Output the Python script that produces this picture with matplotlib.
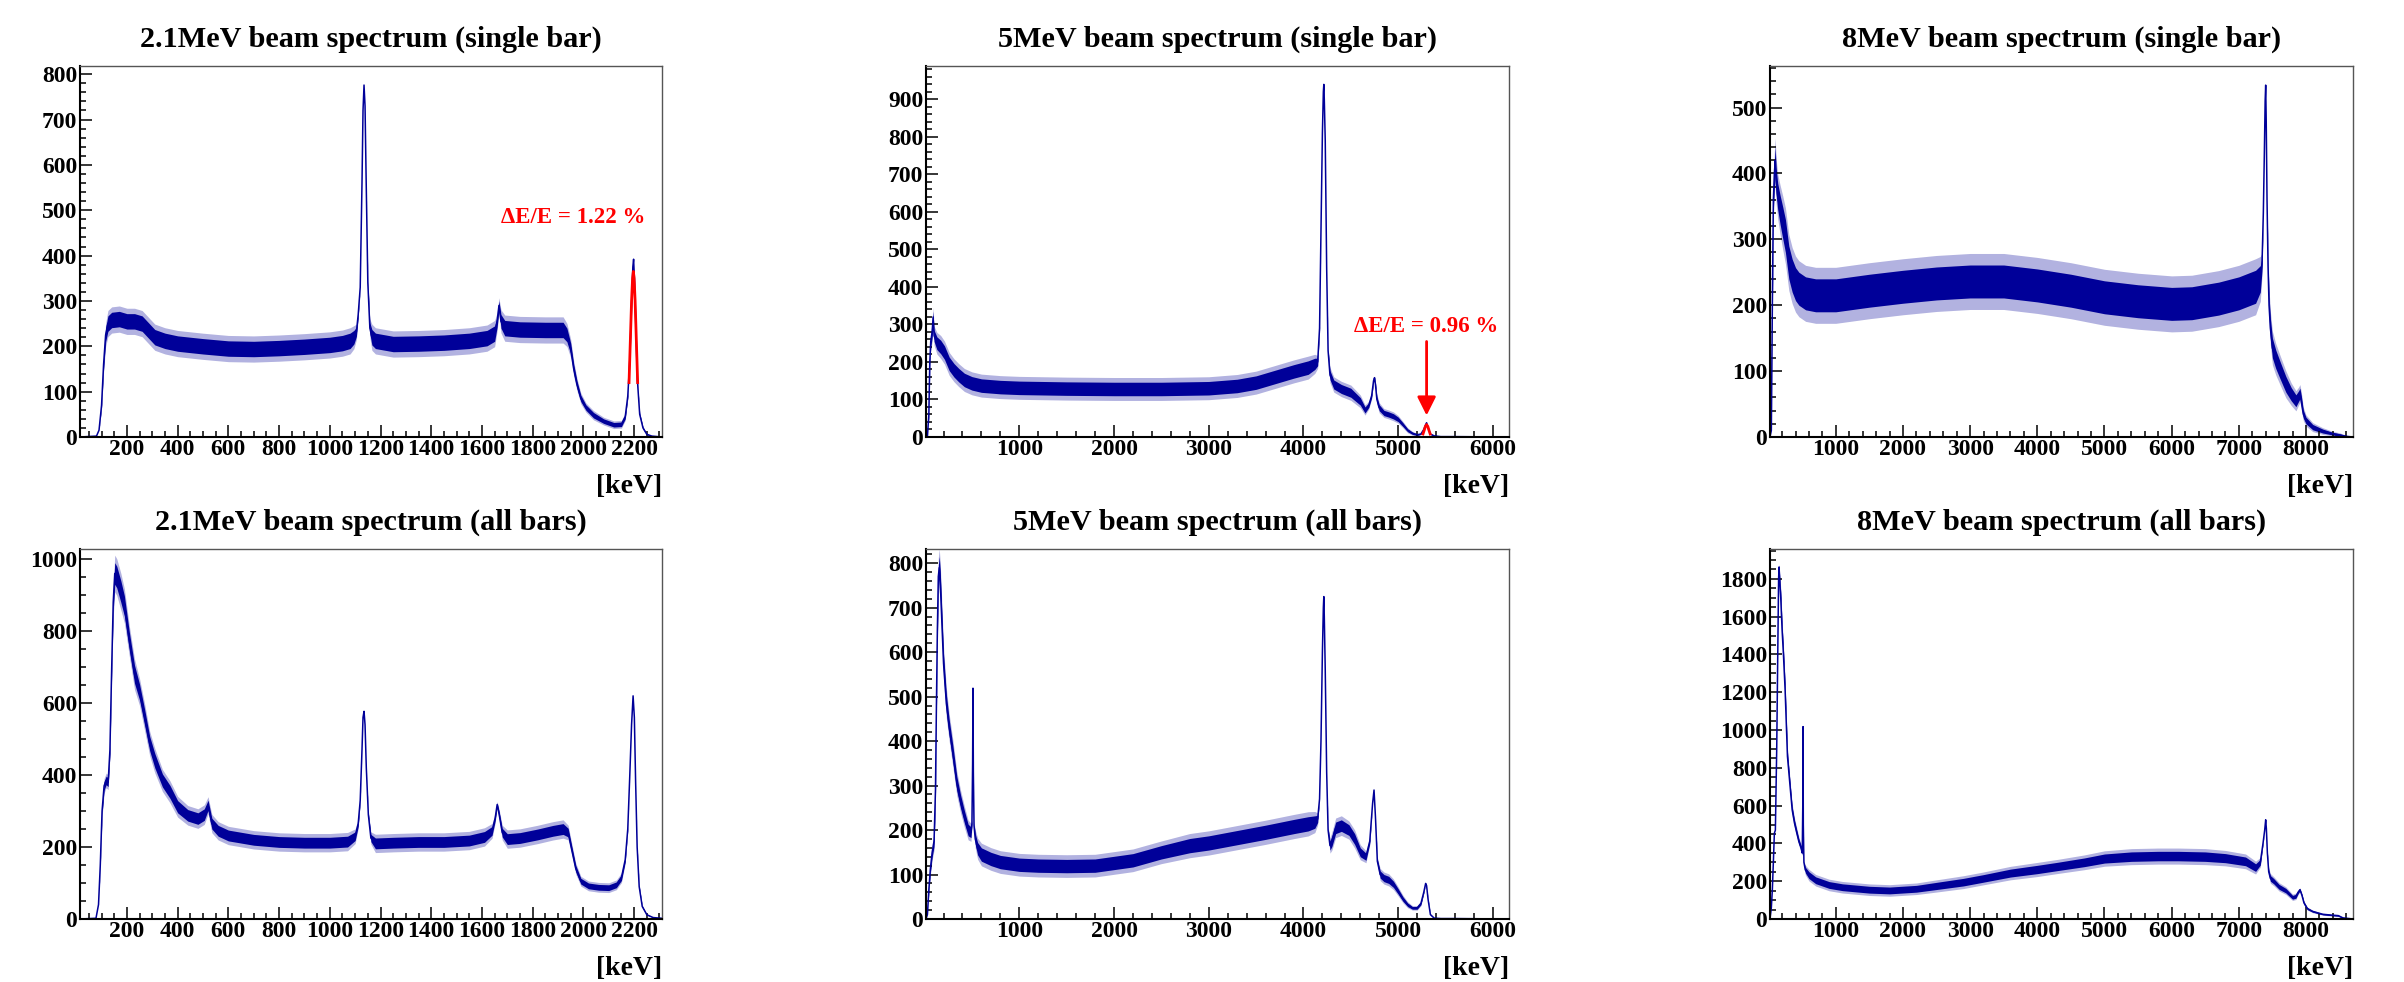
import numpy as np
import matplotlib.pyplot as plt
from matplotlib.ticker import MultipleLocator

plt.rcParams["font.family"] = ["Liberation Serif", "DejaVu Serif"]
plt.rcParams["font.weight"] = "bold"

BLUE = "#000099"
RED = "#ff0000"

# ---------------- 2.1 MeV beam, single bar ----------------
e21_single = [15, 80, 90, 100, 108, 116, 125, 140, 170, 200, 230, 260, 285, 310, 350, 400, 500, 600, 700, 800,
              900, 1000, 1050, 1080, 1095, 1105, 1112, 1120, 1127, 1131, 1135, 1139, 1143, 1150, 1158, 1166, 1180, 1250, 1350, 1450,
              1550, 1620, 1650, 1660, 1667, 1675, 1690, 1750, 1850, 1920, 1935, 1950, 1962, 1975, 1990, 2010, 2040, 2080, 2120, 2150,
              2165, 2175, 2183, 2190, 2195, 2198, 2202, 2207, 2213, 2222, 2235, 2250, 2270, 2310]
c21_single = [0, 2, 15, 70, 160, 225, 250, 258, 260, 255, 255, 250, 235, 220, 212, 206, 200, 195, 194, 196,
              199, 203, 207, 212, 220, 232, 270, 330, 560, 720, 776, 730, 580, 340, 240, 220, 212, 205, 206, 208,
              212, 218, 228, 255, 290, 255, 240, 237, 236, 236, 225, 195, 150, 115, 85, 65, 48, 35, 27, 28,
              45, 90, 170, 290, 375, 392, 340, 240, 125, 50, 20, 6, 2, 0]
w21_single = [0, 0, 0, 5, 10, 15, 17, 17, 17, 17, 17, 17, 17, 17, 17, 17, 17, 17, 17, 17,
              17, 17, 17, 17, 15, 10, 5, 0, 0, 0, 0, 0, 0, 5, 12, 17, 17, 17, 17, 17,
              17, 17, 17, 12, 10, 15, 17, 17, 17, 17, 15, 12, 10, 8, 7, 6, 6, 5, 5, 5,
              5, 4, 2, 0, 0, 0, 0, 0, 2, 3, 2, 1, 0, 0]
fit21_e = [2180, 2185, 2190, 2194, 2197, 2200, 2204, 2209, 2214]
fit21_c = [120, 210, 300, 350, 365, 350, 300, 210, 120]

# ---------------- 5 MeV beam, single bar ----------------
e5_single = [15, 30, 45, 55, 65, 80, 90, 100, 130, 170, 210, 260, 310, 360, 420, 500, 600, 800, 1000, 1500,
             2000, 2500, 3000, 3300, 3500, 3700, 3900, 4050, 4120, 4150, 4170, 4185, 4200, 4210, 4215, 4220, 4230, 4245, 4260, 4280,
             4320, 4400, 4500, 4600, 4650, 4690, 4720, 4740, 4750, 4760, 4775, 4800, 4850, 4900, 4950, 5000, 5050, 5100, 5150, 5200,
             5240, 5270, 5290, 5300, 5315, 5340, 5380, 5450, 5600, 6170]
c5_single = [0, 2, 60, 200, 255, 280, 320, 270, 250, 240, 225, 195, 178, 165, 152, 143, 137, 133, 131, 129,
             128, 128, 130, 136, 145, 160, 175, 185, 195, 200, 290, 550, 810, 920, 940, 900, 790, 450, 230, 165,
             140, 128, 118, 95, 72, 85, 110, 150, 158, 140, 100, 78, 64, 60, 55, 47, 33, 18, 10, 6,
             8, 20, 33, 38, 25, 8, 3, 1, 1, 0]
w5_single = [0, 0, 5, 10, 15, 15, 15, 15, 17, 18, 18, 18, 18, 18, 18, 18, 18, 18, 18, 18,
             18, 18, 18, 18, 18, 18, 18, 18, 15, 10, 5, 0, 0, 0, 0, 0, 0, 0, 5, 12,
             12, 12, 12, 10, 8, 6, 5, 3, 3, 5, 8, 8, 7, 7, 7, 6, 5, 4, 3, 2,
             1, 1, 0, 0, 0, 1, 1, 1, 0, 0]
fit5_e = [5262, 5275, 5287, 5300, 5313, 5325, 5338]
fit5_c = [8, 18, 28, 33, 28, 18, 8]

# ---------------- 8 MeV beam, single bar ----------------
e8_single = [20, 40, 55, 70, 85, 98, 110, 135, 170, 210, 250, 300, 350, 400, 450, 550, 700, 1000, 1500, 2000,
             2500, 3000, 3500, 4000, 4500, 5000, 5500, 6000, 6300, 6700, 7000, 7250, 7320, 7345, 7365, 7380, 7392, 7400, 7408, 7420,
             7435, 7450, 7470, 7500, 7550, 7620, 7700, 7780, 7850, 7890, 7910, 7930, 7960, 8000, 8100, 8250, 8400, 8500, 8600, 8700]
c8_single = [0, 10, 200, 360, 400, 420, 390, 365, 345, 325, 305, 265, 245, 232, 225, 218, 215, 215, 222, 228,
             233, 236, 236, 230, 222, 212, 206, 202, 203, 210, 218, 228, 240, 262, 340, 430, 510, 534, 480, 360,
             260, 200, 165, 135, 118, 100, 80, 65, 55, 62, 66, 55, 35, 25, 15, 9, 5, 3, 1, 0]
w8_single = [0, 0, 10, 15, 20, 20, 20, 20, 22, 24, 25, 25, 25, 25, 25, 25, 25, 25, 25, 25,
             25, 25, 25, 25, 25, 25, 25, 25, 25, 25, 25, 25, 20, 10, 0, 0, 0, 0, 0, 0,
             10, 15, 15, 15, 14, 13, 12, 10, 9, 8, 8, 8, 6, 5, 4, 3, 2, 2, 1, 0]

# ---------------- 2.1 MeV beam, all bars ----------------
e21_all = [15, 78, 88, 95, 102, 110, 118, 126, 133, 140, 146, 152, 160, 168, 176, 190, 210, 230, 250, 270,
           290, 310, 340, 370, 400, 440, 480, 505, 520, 535, 560, 600, 700, 800, 900, 1000, 1070, 1100, 1112, 1120,
           1127, 1131, 1135, 1139, 1144, 1152, 1162, 1180, 1250, 1350, 1450, 1550, 1610, 1640, 1652, 1660, 1668, 1680, 1700, 1750,
           1820, 1880, 1920, 1940, 1955, 1970, 1990, 2020, 2060, 2100, 2130, 2150, 2165, 2175, 2183, 2190, 2196, 2201, 2206, 2212,
           2220, 2232, 2250, 2275, 2310]
c21_all = [0, 2, 40, 150, 300, 370, 385, 380, 470, 700, 880, 960, 950, 930, 910, 870, 770, 680, 630, 560,
           487, 440, 385, 353, 312, 288, 279, 290, 316, 265, 245, 232, 220, 214, 212, 212, 215, 230, 265, 330,
           470, 560, 577, 540, 420, 290, 225, 210, 212, 214, 214, 218, 228, 245, 280, 318, 290, 240, 222, 225,
           235, 245, 250, 240, 190, 140, 105, 92, 88, 87, 95, 115, 165, 250, 400, 540, 620, 560, 380, 200,
           90, 35, 12, 4, 2]
w21_all = [0, 0, 0, 5, 10, 12, 12, 12, 12, 15, 25, 30, 30, 30, 30, 28, 25, 25, 22, 22,
           20, 20, 18, 18, 17, 16, 16, 16, 14, 15, 15, 15, 15, 15, 15, 15, 15, 12, 8, 3,
           0, 0, 0, 0, 0, 5, 10, 15, 15, 15, 15, 15, 15, 12, 8, 5, 8, 12, 15, 15,
           15, 15, 15, 12, 10, 9, 8, 8, 8, 8, 8, 8, 6, 3, 0, 0, 0, 0, 0, 3,
           3, 2, 1, 0, 0]

# ---------------- 5 MeV beam, all bars ----------------
e5_all = [15, 30, 45, 60, 80, 100, 115, 125, 135, 145, 155, 165, 180, 200, 230, 260, 300, 340, 380, 420,
          460, 490, 500, 507, 511, 515, 522, 535, 560, 600, 700, 800, 1000, 1200, 1500, 1800, 2000, 2200, 2500, 2800,
          3000, 3300, 3600, 3900, 4050, 4120, 4150, 4170, 4185, 4200, 4210, 4215, 4220, 4230, 4245, 4260, 4280, 4300, 4340, 4400,
          4480, 4540, 4600, 4660, 4700, 4730, 4745, 4760, 4780, 4810, 4850, 4900, 4950, 5000, 5050, 5100, 5150, 5200, 5240, 5270,
          5290, 5300, 5315, 5340, 5380, 5450, 5600, 6170]
c5_all = [0, 10, 66, 110, 150, 175, 290, 480, 650, 770, 790, 760, 680, 575, 485, 430, 370, 305, 264, 230,
          200, 195, 215, 350, 519, 330, 210, 180, 158, 145, 135, 128, 122, 120, 119, 120, 126, 132, 150, 165,
          171, 183, 195, 208, 214, 218, 225, 270, 400, 600, 700, 725, 680, 560, 330, 200, 165, 175, 205, 210,
          200, 180, 150, 140, 175, 260, 290, 230, 130, 100, 92, 88, 78, 62, 45, 32, 25, 25, 35, 60,
          80, 75, 45, 10, 2, 1, 1, 0]
w5_all = [0, 0, 5, 8, 10, 12, 15, 15, 20, 25, 25, 25, 25, 22, 20, 18, 18, 16, 15, 14,
          13, 12, 5, 0, 0, 0, 5, 12, 14, 15, 15, 15, 15, 15, 15, 15, 15, 15, 15, 16,
          16, 16, 16, 16, 16, 14, 8, 0, 0, 0, 0, 0, 0, 0, 0, 5, 10, 12, 13, 13,
          12, 12, 10, 8, 5, 0, 0, 0, 5, 8, 8, 8, 7, 6, 5, 4, 3, 3, 3, 2,
          0, 0, 2, 1, 0, 0, 0, 0]

# ---------------- 8 MeV beam, all bars ----------------
e8_all = [20, 40, 55, 70, 85, 100, 120, 135, 148, 155, 165, 180, 200, 220, 245, 280, 315, 350, 385, 420,
          450, 480, 500, 508, 512, 516, 525, 545, 600, 700, 900, 1100, 1500, 1800, 2200, 2500, 2900, 3200, 3600, 4000,
          4300, 4700, 5000, 5400, 5800, 6100, 6500, 6800, 7100, 7250, 7320, 7360, 7385, 7400, 7410, 7425, 7445, 7470, 7520, 7600,
          7700, 7800, 7850, 7880, 7910, 7940, 7970, 8020, 8100, 8250, 8400, 8480, 8550, 8700]
c8_all = [0, 60, 155, 300, 454, 470, 900, 1388, 1800, 1863, 1790, 1700, 1530, 1400, 1212, 860, 718, 578, 507, 454,
          410, 380, 349, 600, 1018, 500, 300, 260, 232, 205, 180, 168, 155, 151, 160, 175, 195, 215, 243, 262,
          278, 300, 320, 330, 333, 333, 330, 322, 305, 272, 300, 400, 470, 525, 480, 350, 250, 215, 200, 170,
          150, 115, 120, 140, 155, 125, 85, 55, 40, 25, 20, 18, 6, 0]
w8_all = [0, 0, 0, 0, 0, 0, 0, 0, 10, 10, 20, 30, 30, 30, 30, 25, 20, 18, 16, 15,
          14, 12, 8, 0, 0, 0, 5, 15, 18, 18, 18, 18, 18, 18, 18, 19, 20, 20, 21, 22,
          22, 23, 24, 25, 25, 25, 25, 24, 23, 20, 15, 5, 0, 0, 0, 5, 12, 15, 14, 13,
          12, 10, 10, 8, 6, 6, 6, 5, 4, 3, 3, 3, 2, 0]

titles = ["2.1MeV beam spectrum (single bar)", "5MeV beam spectrum (single bar)", "8MeV beam spectrum (single bar)",
          "2.1MeV beam spectrum (all bars)", "5MeV beam spectrum (all bars)", "8MeV beam spectrum (all bars)"]

W, H = 2404, 982
fig = plt.figure(figsize=(W / 100, H / 100), dpi=100)

cols = [(80, 662), (926, 1509), (1770, 2353)]
rows = [(66, 437), (549, 919)]

panels = [
    (e21_single, c21_single, w21_single, (15, 2310), 818, 200, 50, 100, 20),
    (e5_single, c5_single, w5_single, (15, 6170), 989, 1000, 200, 100, 20),
    (e8_single, c8_single, w8_single, (20, 8700), 563, 1000, 200, 100, 20),
    (e21_all, c21_all, w21_all, (15, 2310), 1028, 200, 50, 200, 50),
    (e5_all, c5_all, w5_all, (15, 6170), 832, 1000, 200, 100, 20),
    (e8_all, c8_all, w8_all, (20, 8700), 1958, 1000, 200, 200, 50),
]

axes = []
for i, (e, c, w, xr, ytop, xmaj, xmin, ymaj, ymin) in enumerate(panels):
    r, col = divmod(i, 3)
    x0, x1 = cols[col]
    y0, y1 = rows[r]
    ax = fig.add_axes([x0 / W, 1 - y1 / H, (x1 - x0) / W, (y1 - y0) / H])
    axes.append(ax)
    e = np.array(e, float)
    c = np.array(c, float)
    w = np.array(w, float)
    # outer, lighter band stands in for the sparse noise spikes
    ax.fill_between(e, np.clip(c - 1.7 * w, 0, None), c + 1.7 * w, color=BLUE, alpha=0.3, lw=0)
    ax.fill_between(e, np.clip(c - w, 0, None), c + w, color=BLUE, lw=0)
    ax.plot(e, c, color=BLUE, lw=1.1)
    ax.set_xlim(*xr)
    ax.set_ylim(0, ytop)
    ax.xaxis.set_major_locator(MultipleLocator(xmaj))
    ax.xaxis.set_minor_locator(MultipleLocator(xmin))
    ax.yaxis.set_major_locator(MultipleLocator(ymaj))
    ax.yaxis.set_minor_locator(MultipleLocator(ymin))
    ax.tick_params(which="both", direction="in", top=False, right=False, width=1.1, labelsize=17)
    ax.tick_params(which="major", length=8.5)
    ax.tick_params(which="minor", length=4.5)
    ax.tick_params(axis="x", pad=1.5)
    ax.tick_params(axis="y", pad=2)
    for s in ("left", "bottom"):
        ax.spines[s].set_linewidth(1.5)
        ax.spines[s].set_color("black")
    for s in ("top", "right"):
        ax.spines[s].set_linewidth(1.0)
        ax.spines[s].set_color("#555555")
    h = y1 - y0
    ax.text(0.5, 1 + 19.5 / h, titles[i], transform=ax.transAxes, ha="center", va="baseline",
            fontsize=21.8, fontweight="bold")
    ax.text(1.0, -56 / h, "[keV]", transform=ax.transAxes, ha="right", va="baseline",
            fontsize=20, fontweight="bold")

# resolution fits
axes[0].plot(fit21_e, fit21_c, color=RED, lw=2)
axes[0].text(1960, 483, "ΔE/E = 1.22 %", color=RED, ha="center", va="center", fontsize=16.5, fontweight="bold")

axes[1].plot(fit5_e, fit5_c, color=RED, lw=2)
axes[1].text(5300, 294, "ΔE/E = 0.96 %", color=RED, ha="center", va="center", fontsize=16.5, fontweight="bold")
axes[1].annotate("", xy=(5300, 50), xytext=(5300, 262),
                 arrowprops=dict(arrowstyle="-|>", color=RED, lw=2, mutation_scale=28))

fig.savefig("out.png", dpi=100)
